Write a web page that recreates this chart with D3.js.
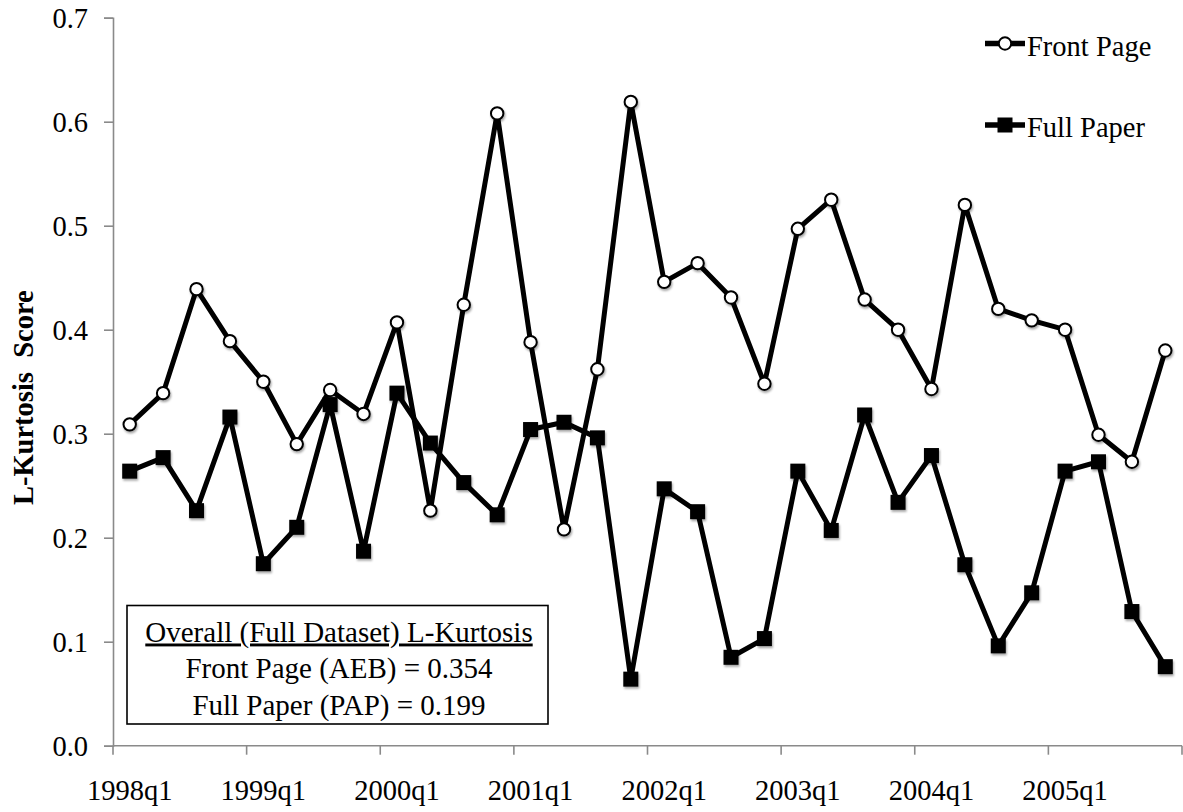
<!DOCTYPE html>
<html>
<head>
<meta charset="utf-8">
<script src="https://cdn.jsdelivr.net/npm/d3@7"></script>
<style>
  html, body { margin: 0; padding: 0; background: #fff; }
  svg { display: block; }
  text { font-family: "Liberation Serif", "Times New Roman", serif; fill: #000; }
</style>
</head>
<body>
<svg id="chart" width="1183" height="812"></svg>
<script>
const quarters = [
  "1998q1","1998q2","1998q3","1998q4",
  "1999q1","1999q2","1999q3","1999q4",
  "2000q1","2000q2","2000q3","2000q4",
  "2001q1","2001q2","2001q3","2001q4",
  "2002q1","2002q2","2002q3","2002q4",
  "2003q1","2003q2","2003q3","2003q4",
  "2004q1","2004q2","2004q3","2004q4",
  "2005q1","2005q2","2005q3","2005q4"
];
const tickLabels = ["1998q1","1999q1","2000q1","2001q1","2002q1","2003q1","2004q1","2005q1"];
const yTicks = [0.0, 0.1, 0.2, 0.3, 0.4, 0.5, 0.6, 0.7];

const frontPage = [
  0.309, 0.339, 0.439, 0.389, 0.350, 0.290, 0.342, 0.319,
  0.407, 0.226, 0.424, 0.608, 0.388, 0.208, 0.362, 0.619,
  0.446, 0.464, 0.431, 0.348, 0.497, 0.525, 0.429, 0.400,
  0.343, 0.520, 0.420, 0.409, 0.400, 0.299, 0.273, 0.380
];
const fullPaper = [
  0.264, 0.277, 0.226, 0.316, 0.175, 0.210, 0.328, 0.187,
  0.339, 0.291, 0.253, 0.222, 0.304, 0.311, 0.296, 0.064,
  0.247, 0.225, 0.085, 0.103, 0.264, 0.207, 0.318, 0.234,
  0.279, 0.174, 0.096, 0.147, 0.264, 0.273, 0.129, 0.076
];
const seriesNames = ["Front Page", "Full Paper"];
const yTitle = "L-Kurtosis\u00a0\u00a0Score";
const noteLines = [
  "Overall (Full Dataset) L-Kurtosis",
  "Front Page (AEB) = 0.354",
  "Full Paper (PAP) = 0.199"
];

const svg = d3.select("#chart");
const pL = 113, pR = 1182, pT = 17.7, pB = 745.7;

const x = d3.scaleBand().domain(quarters).range([pL, pR]).padding(0);
const y = d3.scaleLinear().domain([0, 0.7]).range([pB, pT]);
const cx = q => x(q) + x.bandwidth() / 2;

// drop shadow for markers
const defs = svg.append("defs");
const f = defs.append("filter").attr("id", "shadow").attr("x", "-50%").attr("y", "-50%").attr("width", "200%").attr("height", "200%");
f.append("feDropShadow").attr("dx", 1).attr("dy", 2).attr("stdDeviation", 1.3).attr("flood-color", "#000").attr("flood-opacity", 0.35);

const axisColor = "#8a8a8a";

// Y axis
const yAxis = svg.append("g").attr("transform", `translate(${pL},0)`)
  .call(d3.axisLeft(y).tickValues(yTicks).tickFormat(d3.format(".1f")).tickSize(9).tickPadding(16));
yAxis.select(".domain").attr("stroke", axisColor).attr("stroke-width", 1.6);
yAxis.selectAll(".tick line").attr("stroke", axisColor).attr("stroke-width", 1.6);
yAxis.selectAll(".tick text").attr("font-size", "28.5px").attr("font-family", "Liberation Serif")
  .attr("fill", "#000").attr("dy", "0.36em");

// X axis
const xg = svg.append("g");
xg.append("line").attr("x1", pL).attr("x2", pR).attr("y1", pB).attr("y2", pB)
  .attr("stroke", axisColor).attr("stroke-width", 1.6);
const xTickPos = tickLabels.map(q => x(q)).concat([pR]);
xg.selectAll("line.tk").data(xTickPos).enter().append("line").attr("class", "tk")
  .attr("x1", d => d).attr("x2", d => d).attr("y1", pB).attr("y2", pB + 9)
  .attr("stroke", axisColor).attr("stroke-width", 1.6);
xg.selectAll("text").data(tickLabels).enter().append("text")
  .attr("x", d => cx(d)).attr("y", 800).attr("text-anchor", "middle")
  .attr("font-size", "28.5px").text(d => d);

// Y title
svg.append("text")
  .attr("transform", `translate(33,${(pT + pB) / 2 + 16}) rotate(-90)`)
  .attr("text-anchor", "middle").attr("font-size", "28.5px").attr("font-weight", "bold")
  .text(yTitle);

// Lines
const line = d3.line().x((d, i) => cx(quarters[i])).y(d => y(d));

function drawSeries(values, kind) {
  const g = svg.append("g");
  g.append("path").datum(values).attr("d", line).attr("fill", "none")
    .attr("stroke", "#000").attr("stroke-width", 5).attr("stroke-linejoin", "round");
  const mg = g.append("g").attr("filter", "url(#shadow)");
  if (kind === "circle") {
    mg.selectAll("circle").data(values).enter().append("circle")
      .attr("cx", (d, i) => cx(quarters[i])).attr("cy", d => y(d)).attr("r", 6.2)
      .attr("fill", "#fff").attr("stroke", "#000").attr("stroke-width", 2);
  } else {
    const s = 15;
    mg.selectAll("rect").data(values).enter().append("rect")
      .attr("x", (d, i) => cx(quarters[i]) - s / 2).attr("y", d => y(d) - s / 2)
      .attr("width", s).attr("height", s).attr("fill", "#000");
  }
}
drawSeries(fullPaper, "square");
drawSeries(frontPage, "circle");

// Legend
const legendY = [43.5, 125];
const lg = svg.append("g");
seriesNames.forEach((name, i) => {
  const ly = legendY[i];
  lg.append("line").attr("x1", 985).attr("x2", 1025).attr("y1", ly).attr("y2", ly)
    .attr("stroke", "#000").attr("stroke-width", 5.5);
  if (i === 0) {
    lg.append("circle").attr("cx", 1005).attr("cy", ly).attr("r", 6.2)
      .attr("fill", "#fff").attr("stroke", "#000").attr("stroke-width", 2);
  } else {
    lg.append("rect").attr("x", 1005 - 7.5).attr("y", ly - 7.5).attr("width", 15).attr("height", 15).attr("fill", "#000");
  }
  lg.append("text").attr("x", 1027).attr("y", ly + 12).attr("font-size", "28.5px").text(name);
});

// Annotation box
const box = svg.append("g");
box.append("rect").attr("x", 127).attr("y", 605.5).attr("width", 421).attr("height", 118.5)
  .attr("fill", "#fff").attr("stroke", "#000").attr("stroke-width", 1.6);
const noteY = [641.5, 678, 714.5];
noteLines.forEach((t, i) => {
  box.append("text").attr("x", 339).attr("y", noteY[i]).attr("text-anchor", "middle")
    .attr("font-size", "29px").attr("text-decoration", i === 0 ? "underline" : null).text(t);
});
</script>
</body>
</html>
